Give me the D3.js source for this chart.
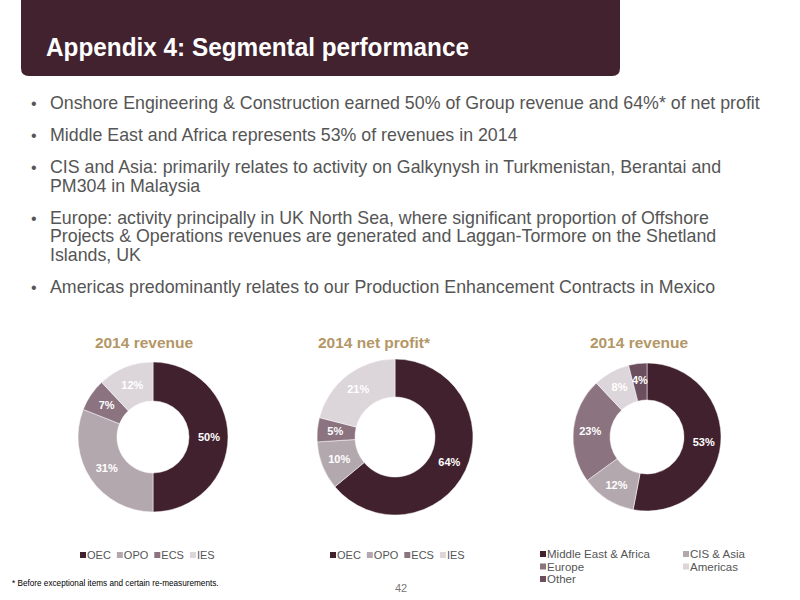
<!DOCTYPE html>
<html>
<head>
<meta charset="utf-8">
<script src="https://cdn.jsdelivr.net/npm/d3@7"></script>
<style>
  body { margin: 0; background: #fff; }
  svg { display: block; font-family: "Liberation Sans", Arial, sans-serif; }
</style>
</head>
<body>
<svg id="chart"></svg>
<script>
// chart data
const segCategories = ["OEC", "OPO", "ECS", "IES"];
const revenueValues = [50, 31, 7, 12];
const profitValues = [64, 10, 5, 21];
const regionCategories = ["Middle East & Africa", "CIS & Asia", "Europe", "Americas", "Other"];
const regionValues = [53, 12, 23, 8, 4];

const bullets = [
    ["Onshore Engineering & Construction earned 50% of Group revenue and 64%* of net profit"],
    ["Middle East and Africa represents 53% of revenues in 2014"],
    ["CIS and Asia: primarily relates to activity on Galkynysh in Turkmenistan, Berantai and", "PM304 in Malaysia"],
    ["Europe: activity principally in UK North Sea, where significant proportion of Offshore", "Projects & Operations revenues are generated and Laggan-Tormore on the Shetland", "Islands, UK"],
    ["Americas predominantly relates to our Production Enhancement Contracts in Mexico"]
];

const segColor = d3.scaleOrdinal()
    .domain(segCategories)
    .range(["#42212f", "#b4a8af", "#8b7480", "#dcd5d9"]);
const regionColor = d3.scaleOrdinal()
    .domain(regionCategories)
    .range(["#42212f", "#b4a8af", "#8b7480", "#dcd5d9", "#6c4f5e"]);

const width = 800, height = 600;
const svg = d3.select("#chart")
    .attr("width", width)
    .attr("height", height);

// header band
svg.append("path")
    .attr("d", "M21,0 H620 V68 Q620,76 612,76 H29 Q21,76 21,68 Z")
    .attr("fill", "#42222f");
svg.append("text")
    .attr("x", 46)
    .attr("y", 56)
    .attr("fill", "#fff")
    .attr("textLength", 423)
    .attr("lengthAdjust", "spacingAndGlyphs")
    .style("font-size", "25px")
    .style("font-weight", "bold")
    .text("Appendix 4: Segmental performance");

// bullet list
const lineGap = 18.5, bulletGap = 32;
let by = 109;
bullets.forEach(lines => {
    svg.append("text")
        .attr("x", 31)
        .attr("y", by)
        .attr("fill", "#555")
        .style("font-size", "16px")
        .text("•");
    lines.forEach((t, i) => {
        svg.append("text")
            .attr("x", 50)
            .attr("y", by + i * lineGap)
            .attr("fill", "#555")
            .style("font-size", "17.8px")
            .text(t);
    });
    by += (lines.length - 1) * lineGap + bulletGap;
});

const pie = d3.pie().sort(null).value(d => d.value);

function donut(cx, cy, rOuter, rInner, title, titleX, cats, vals, color) {
    const g = svg.append("g").attr("transform", `translate(${cx},${cy})`);
    const data = cats.map((c, i) => ({ name: c, value: vals[i] }));
    const arc = d3.arc().innerRadius(rInner).outerRadius(rOuter);
    const labelArc = d3.arc().innerRadius(rInner + 20).outerRadius(rInner + 20);

    g.selectAll("path")
        .data(pie(data))
        .join("path")
        .attr("d", arc)
        .attr("fill", d => color(d.data.name))
        .attr("stroke", "#fff")
        .attr("stroke-width", 0.5);

    g.selectAll("text.lbl")
        .data(pie(data))
        .join("text")
        .attr("class", "lbl")
        .attr("transform", d => `translate(${labelArc.centroid(d)})`)
        .attr("text-anchor", "middle")
        .attr("dy", "0.35em")
        .attr("fill", "#fff")
        .style("font-size", "11px")
        .style("font-weight", "bold")
        .text(d => d.data.value + "%");

    svg.append("text")
        .attr("x", titleX)
        .attr("y", 348)
        .attr("text-anchor", "middle")
        .attr("fill", "#b39767")
        .style("font-size", "15.5px")
        .style("font-weight", "bold")
        .text(title);
}

donut(153, 437, 75, 36, "2014 revenue", 144, segCategories, revenueValues, segColor);
donut(395, 437, 78, 40, "2014 net profit*", 374, segCategories, profitValues, segColor);
donut(647, 437, 74, 37, "2014 revenue", 639, regionCategories, regionValues, regionColor);

// inline legends under the segment donuts
function inlineLegend(x0, y, cats, color) {
    const g = svg.append("g").attr("transform", `translate(${x0},${y})`);
    let x = 0;
    cats.forEach(c => {
        g.append("rect")
            .attr("x", x).attr("y", -7)
            .attr("width", 6).attr("height", 6)
            .attr("fill", color(c));
        const t = g.append("text")
            .attr("x", x + 7).attr("y", 0)
            .attr("fill", "#555")
            .style("font-size", "11px")
            .text(c);
        x += 7 + t.node().getComputedTextLength() + 6;
    });
}
inlineLegend(80, 559, segCategories, segColor);
inlineLegend(330, 559, segCategories, segColor);

// two-column legend for regions
const regLegend = svg.append("g");
regionCategories.forEach((c, i) => {
    const x = i % 2 === 0 ? 540 : 683;
    const y = 558 + Math.floor(i / 2) * 12.5;
    regLegend.append("rect")
        .attr("x", x).attr("y", y - 7)
        .attr("width", 6).attr("height", 6)
        .attr("fill", regionColor(c));
    regLegend.append("text")
        .attr("x", x + 7).attr("y", y)
        .attr("fill", "#555")
        .style("font-size", "11.5px")
        .text(c);
});

// footnote and page number
svg.append("text")
    .attr("x", 12)
    .attr("y", 586)
    .attr("fill", "#000")
    .style("font-family", "'Liberation Sans Narrow', 'Liberation Sans', sans-serif")
    .style("font-size", "8.2px")
    .text("* Before exceptional items and certain re-measurements.");
svg.append("text")
    .attr("x", 401)
    .attr("y", 592)
    .attr("text-anchor", "middle")
    .attr("fill", "#777")
    .style("font-size", "11px")
    .text("42");
</script>
</body>
</html>
